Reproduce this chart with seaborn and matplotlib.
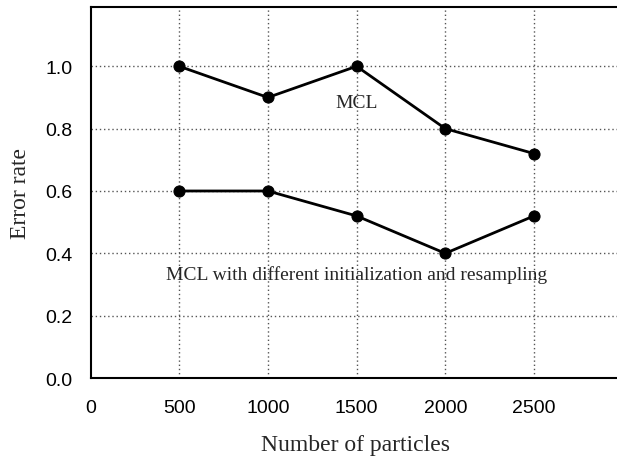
import matplotlib
matplotlib.use("Agg")
import matplotlib.pyplot as plt
import seaborn as sns
import pandas as pd

particles = [500, 1000, 1500, 2000, 2500]
mcl_error = [1.0, 0.9, 1.0, 0.8, 0.72]
mcl_mod_error = [0.6, 0.6, 0.52, 0.4, 0.52]
x_ticks = [0, 500, 1000, 1500, 2000, 2500]
y_ticks = [0.0, 0.2, 0.4, 0.6, 0.8, 1.0]

sns.set_style("white")
plt.rcParams["font.family"] = ["Liberation Sans", "DejaVu Sans"]

df = pd.DataFrame({
    "particles": particles * 2,
    "error": mcl_error + mcl_mod_error,
    "method": ["MCL"] * 5 + ["MCL with different initialization and resampling"] * 5,
})

fig = plt.figure(figsize=(6.17, 4.6), dpi=100)
ax = fig.add_axes([0.1467, 0.176, 0.86, 0.8065])

sns.lineplot(data=df, x="particles", y="error", units="method", estimator=None,
             color="black", linewidth=2.0, marker="o", markersize=8,
             markeredgecolor="black", markerfacecolor="black", ax=ax, legend=False)

ax.set_xlim(0, 2968 * 0.86 / 0.8533)
ax.set_ylim(0, 1.19)
ax.set_xticks(x_ticks)
ax.set_yticks(y_ticks)
ax.set_yticklabels([f"{v:.1f}" for v in y_ticks])
ax.tick_params(axis="both", direction="out", length=6, width=1.2, labelsize=14,
               colors="black", pad=7)
ax.tick_params(axis="x", pad=9)

for v in x_ticks[1:]:
    ax.axvline(v, color="#555555", linestyle=(0, (1, 2)), linewidth=1.0, zorder=0)
for v in y_ticks[1:]:
    ax.axhline(v, color="#555555", linestyle=(0, (1, 2)), linewidth=1.0, zorder=0)

for s in ax.spines.values():
    s.set_color("black")
    s.set_linewidth(1.5)

serif = ["Liberation Serif", "DejaVu Serif"]
ax.set_xlabel("Number of particles", family=serif, fontsize=17, labelpad=13)
ax.set_ylabel("Error rate", family=serif, fontsize=17, labelpad=10)

ax.text(1500, 0.885, "MCL", family=serif, fontsize=14, ha="center", va="center")
ax.text(1500, 0.335, "MCL with different initialization and resampling",
        family=serif, fontsize=14, ha="center", va="center")

fig.savefig("out.png", dpi=100)
